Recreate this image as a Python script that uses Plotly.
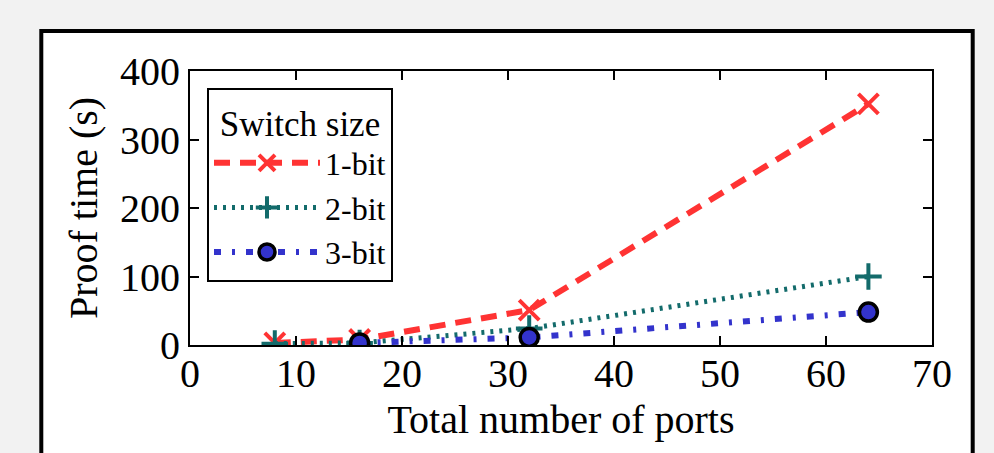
import plotly.graph_objects as go

ports_1bit = [8, 16, 32, 64]
time_1bit = [3, 8, 51, 352]
ports_2bit = [8, 16, 32, 64]
time_2bit = [2, 3, 24, 100]
ports_3bit = [16, 32, 64]
time_3bit = [3, 11, 48]

x_ticks = [0, 10, 20, 30, 40, 50, 60, 70]
y_ticks = [0, 100, 200, 300, 400]

RED = "#ff3333"
TEAL = "#136b6b"
BLUE = "#3333cc"
FONT = "Liberation Serif"

fig = go.Figure()
fig.add_trace(go.Scatter(
    x=ports_1bit, y=time_1bit, name="1-bit", mode="lines+markers",
    line=dict(color=RED, width=6, dash="16px,10px"),
    marker=dict(symbol="x-thin", size=20, color=RED, line=dict(color=RED, width=4)),
))
fig.add_trace(go.Scatter(
    x=ports_2bit, y=time_2bit, name="2-bit", mode="lines+markers",
    line=dict(color=TEAL, width=5, dash="3px,6px"),
    marker=dict(symbol="cross-thin", size=19, color=TEAL, line=dict(color=TEAL, width=4)),
))
fig.add_trace(go.Scatter(
    x=ports_3bit, y=time_3bit, name="3-bit", mode="lines+markers",
    line=dict(color=BLUE, width=6, dash="7px,11px,3px,11px"),
    marker=dict(symbol="circle", size=18, color=BLUE, line=dict(color="black", width=3.5)),
))

# white figure panel with black frame (paper coordinates relative to plot area)
L, R, T, B = 190, 932, 71, 345
def px_x(p):
    return (p - L) / (R - L)
def px_y(p):
    return (B - p) / (B - T)

fig.add_shape(type="rect", xref="paper", yref="paper",
              x0=px_x(41.3), x1=px_x(972.7), y0=px_y(480), y1=px_y(31),
              fillcolor="white", line=dict(color="black", width=4), layer="below")

axis_common = dict(
    showline=True, linecolor="black", linewidth=2, mirror="allticks",
    ticks="inside", ticklen=9, tickwidth=1.5, tickcolor="black",
    showgrid=False, zeroline=False,
    tickfont=dict(family=FONT, size=40, color="black"),
)

fig.update_layout(
    width=994, height=453,
    margin=dict(l=L, r=994 - R, t=T, b=453 - B),
    paper_bgcolor="#f2f2f2", plot_bgcolor="white",
    font=dict(family=FONT, color="black"),
    xaxis=dict(range=[0, 70], tickvals=x_ticks, ticklabelstandoff=-8, automargin=True,
               title=dict(text="Total number of ports", font=dict(family=FONT, size=40), standoff=10),
               **axis_common),
    yaxis=dict(range=[0, 400], tickvals=y_ticks,
               title=dict(text="Proof time (s)", font=dict(family=FONT, size=40), standoff=10),
               **axis_common),
    legend=dict(
        x=px_x(207), y=px_y(88), xanchor="left", yanchor="top",
        bgcolor="white", bordercolor="black", borderwidth=2,
        font=dict(family=FONT, size=32, color="black"),
        title=dict(text="Switch size", side="top center", font=dict(family=FONT, size=35)),
        itemwidth=106,
    ),
    showlegend=True,
)

fig.write_html("out.html", config={"displayModeBar": False},
               post_script="document.body.style.margin='0';")
